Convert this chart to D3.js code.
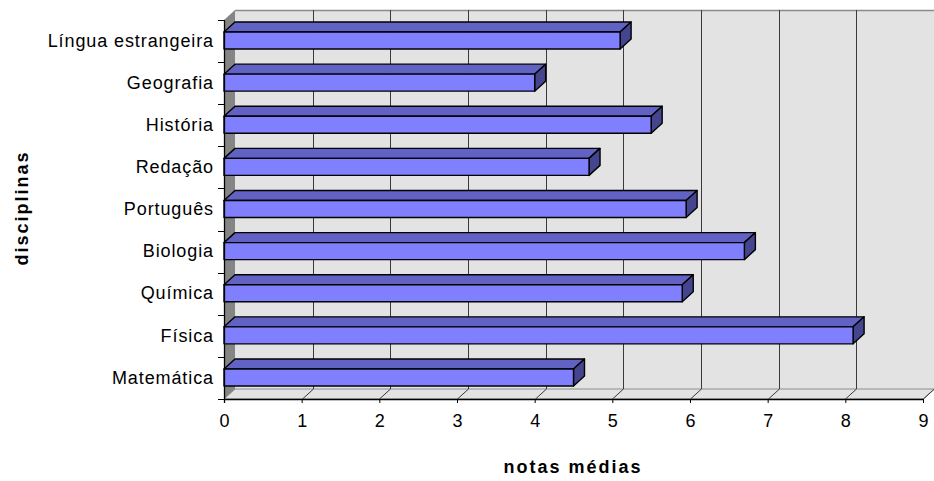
<!DOCTYPE html>
<html>
<head>
<meta charset="utf-8">
<script src="https://cdn.jsdelivr.net/npm/d3@7"></script>
<style>
  html, body { margin: 0; padding: 0; background: #fff; }
  svg { display: block; font-family: "Liberation Sans", Arial, sans-serif; }
</style>
</head>
<body>
<svg id="chart" width="934" height="481"></svg>
<script>
// Subjects, listed top to bottom as drawn
const categories = ["Língua estrangeira", "Geografia", "História", "Redação", "Português",
                    "Biologia", "Química", "Física", "Matemática"];
// Average grade per subject
const notas = [5.1, 4.0, 5.5, 4.7, 5.95, 6.7, 5.9, 8.1, 4.5];
const xTicks = [0, 1, 2, 3, 4, 5, 6, 7, 8, 9];
const xTitle = "notas médias";
const yTitle = "disciplinas";

const svg = d3.select("#chart");

// Front plane of the plot and the 3D depth offset
const pL = 224, pR = 923, pT = 20, pB = 399;
const dx = 11, dy = 10;

const x = d3.scaleLinear().domain([0, 9]).range([pL, pR]);
const y = d3.scaleBand().domain(categories).range([pT, pB]);

// ---- walls ----
// back wall
svg.append("rect")
  .attr("x", pL + dx).attr("y", pT - dy)
  .attr("width", pR - pL).attr("height", pB - pT)
  .attr("fill", "#e3e3e3");
svg.append("line")
  .attr("x1", pL + dx).attr("x2", pR + dx)
  .attr("y1", pT - dy + 0.5).attr("y2", pT - dy + 0.5)
  .attr("stroke", "#8c8c8c").attr("stroke-width", 1.5);
// floor
svg.append("polygon")
  .attr("points", [[pL, pB], [pL + dx, pB - dy], [pR + dx, pB - dy], [pR, pB]].join(" "))
  .attr("fill", "#e3e3e3").attr("stroke", "#8c8c8c").attr("stroke-width", 1);
// side wall
svg.append("polygon")
  .attr("points", [[pL, pT], [pL + dx, pT - dy], [pL + dx, pB - dy], [pL, pB]].join(" "))
  .attr("fill", "#858585");

// ---- gridlines (back wall + floor) ----
const grid = svg.append("g").attr("stroke", "#3a3a3a").attr("stroke-width", 1).attr("fill", "none");
xTicks.slice(1).forEach(v => {
  const xf = Math.round(x(v)) + 0.5;
  grid.append("path")
    .attr("d", `M${xf + dx},${pT - dy}V${pB - dy}L${xf},${pB}`);
});

// ---- bars ----
const barH = 17;
const bars = svg.append("g").attr("stroke", "#000").attr("stroke-width", 1.4).attr("stroke-linejoin", "round");
categories.forEach((c, i) => {
  const v = notas[i];
  const yc = y(c) + y.bandwidth() / 2 - 0.5;
  const y0 = yc - barH / 2, y1 = yc + barH / 2;
  const x0 = x(0), x1 = x(v);
  // top face
  bars.append("polygon")
    .attr("points", [[x0, y0], [x0 + dx, y0 - dy], [x1 + dx, y0 - dy], [x1, y0]].join(" "))
    .attr("fill", "#6262c4");
  // end face
  bars.append("polygon")
    .attr("points", [[x1, y0], [x1 + dx, y0 - dy], [x1 + dx, y1 - dy], [x1, y1]].join(" "))
    .attr("fill", "#45458f");
  // front face
  bars.append("rect")
    .attr("x", x0).attr("y", y0).attr("width", x1 - x0).attr("height", barH)
    .attr("fill", "#8080ff");
});

// ---- axes ----
const axisFont = "18px";
// category axis
const yAxis = svg.append("g").attr("transform", `translate(${pL},0)`)
  .call(d3.axisLeft(y).tickSize(0).tickPadding(10));
yAxis.select(".domain").remove();
yAxis.selectAll("text")
  .attr("font-size", axisFont).attr("fill", "#000")
  .attr("font-family", "Liberation Sans, Arial, sans-serif")
  .style("letter-spacing", "0.9px");
// category boundary ticks
const bounds = categories.map(c => y(c)).concat([pB]);
svg.append("g").selectAll("line").data(bounds).join("line")
  .attr("x1", pL - 6).attr("x2", pL)
  .attr("y1", d => Math.round(d) + 0.5).attr("y2", d => Math.round(d) + 0.5)
  .attr("stroke", "#000");
svg.append("line")
  .attr("x1", pL + 0.5).attr("x2", pL + 0.5)
  .attr("y1", pT).attr("y2", pB + 4)
  .attr("stroke", "#000").attr("stroke-width", 1.3);

// value axis
const xAxis = svg.append("g").attr("transform", `translate(0,${pB})`)
  .call(d3.axisBottom(x).tickValues(xTicks).tickFormat(d3.format("d")).tickSize(4).tickSizeOuter(0).tickPadding(11));
xAxis.select(".domain").attr("stroke", "#000").attr("stroke-width", 1.3);
xAxis.selectAll(".tick line").attr("stroke", "#000");
xAxis.selectAll("text")
  .attr("font-size", axisFont).attr("fill", "#000")
  .attr("font-family", "Liberation Sans, Arial, sans-serif");

// ---- axis titles ----
svg.append("text")
  .attr("x", 573).attr("y", 473)
  .attr("text-anchor", "middle")
  .attr("font-size", "18px").attr("font-weight", "bold")
  .style("letter-spacing", "2px")
  .text(xTitle);
svg.append("text")
  .attr("transform", "translate(28,208) rotate(-90)")
  .attr("text-anchor", "middle")
  .attr("font-size", "18px").attr("font-weight", "bold")
  .style("letter-spacing", "2px")
  .text(yTitle);
</script>
</body>
</html>
